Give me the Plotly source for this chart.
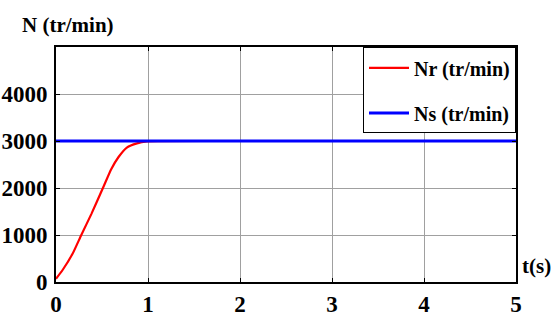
import plotly.graph_objects as go

# Rotor speed response (tr/min) versus time (s)
t_nr = [0.0, 0.07, 0.18, 0.275, 0.385, 0.51, 0.6, 0.68, 0.77, 0.88, 0.99, 2.0, 3.0, 4.0, 5.0]
nr = [70, 250, 600, 1000, 1450, 2000, 2400, 2660, 2860, 2950, 2990, 3000, 3000, 3000, 3000]

# Synchronous speed reference
t_ns = [0.0, 5.0]
ns = [3000, 3000]

x_ticks = [0, 1, 2, 3, 4, 5]
y_ticks = [0, 1000, 2000, 3000, 4000]

font_family = "'Liberation Serif', 'Times New Roman', serif"

fig = go.Figure()
fig.add_trace(go.Scatter(x=t_nr, y=nr, mode="lines", name="Nr (tr/min)", legendgroup="nr",
                         line=dict(color="#ff0000", width=2.2, shape="spline", smoothing=0.5)))
fig.add_trace(go.Scatter(x=t_ns, y=ns, mode="lines", name="Ns (tr/min)", legendgroup="ns",
                         line=dict(color="#0000ff", width=3)))

axis_common = dict(
    showline=True, linecolor="black", linewidth=2, mirror="allticks",
    ticks="inside", ticklen=4, tickcolor="black",
    showgrid=True, gridcolor="#a0a0a0", gridwidth=1,
    zeroline=False, automargin=False,
    tickfont=dict(family=font_family, size=23, color="black", weight="bold"),
)

fig.update_xaxes(range=[0, 5], tickvals=x_ticks, **axis_common)
fig.update_yaxes(range=[0, 5000], tickvals=y_ticks, ticklabelstandoff=2, **axis_common)

fig.update_layout(
    width=555, height=322,
    margin=dict(l=56, r=39, t=47, b=40),
    plot_bgcolor="white", paper_bgcolor="white",
    showlegend=True,
    legend=dict(x=1.0, y=0.998, xanchor="right", yanchor="top",
                bgcolor="white", bordercolor="black", borderwidth=1,
                font=dict(family=font_family, size=20, color="black", weight="bold"),
                tracegroupgap=16, itemwidth=40),
    annotations=[
        dict(text="<b>N (tr/min)</b>", xref="paper", yref="paper",
             x=-0.079, y=1.0, xanchor="left", yanchor="bottom", yshift=8,
             showarrow=False, font=dict(family=font_family, size=21, color="black")),
        dict(text="<b>t(s)</b>", xref="paper", yref="paper",
             x=1.0, y=0.07, xanchor="left", yanchor="middle", xshift=4,
             showarrow=False, font=dict(family=font_family, size=21, color="black")),
    ],
)

fig.write_html("out.html")
